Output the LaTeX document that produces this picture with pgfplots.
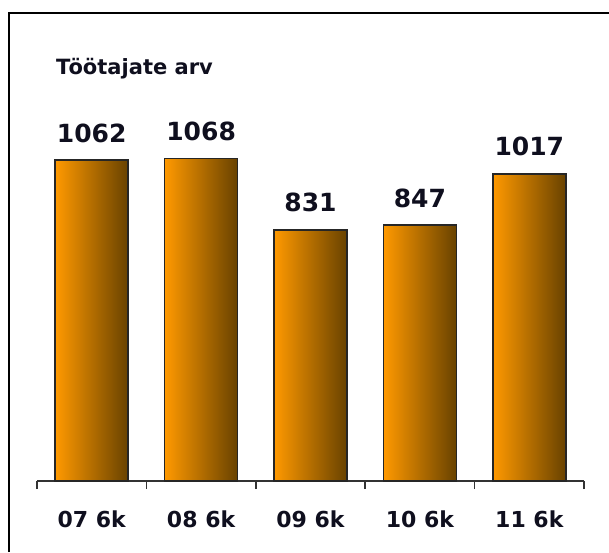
\documentclass[border=0pt]{standalone}
\usepackage{fontspec}
\setmainfont{DejaVu Sans}
\usepackage{pgfplots}
\pgfplotsset{compat=1.18}
\definecolor{barL}{RGB}{255,153,0}
\definecolor{barM}{RGB}{215,128,0}
\definecolor{barR}{RGB}{104,66,0}
\definecolor{txt}{RGB}{15,15,30}
\tikzset{mybar/.style={draw=black!85, line width=1.6pt, left color=barL, middle color=barM, right color=barR}}
\begin{document}
\begin{tikzpicture}[x=1pt,y=1pt]
\useasboundingbox (0,0) rectangle (609,552);
\draw[line width=2pt] (9,0) -- (9,539) -- (609,539);
\node[anchor=base west, font=\bfseries\fontsize{21}{21}\selectfont, inner sep=0pt, text=txt] at (56,477) {Töötajate arv};
\begin{axis}[
  at={(37pt,71pt)}, anchor=south west,
  scale only axis, width=547pt, height=400pt,
  xmin=-0.5, xmax=4.5, ymin=0, ymax=1324,
  axis y line=none, axis x line*=bottom,
  x axis line style={-, line width=1.5pt, color=black!80},
  xtick={0,...,4}, xticklabels={07 6k,08 6k,09 6k,10 6k,11 6k},
  major tick length=0pt,
  minor xtick={-0.5,0.5,1.5,2.5,3.5,4.5},
  minor tick length=8pt, tick align=outside,
  tick style={line width=1.5pt, color=black!80},
  xticklabel style={font=\bfseries\fontsize{22}{22}\selectfont, text=txt, anchor=base, yshift=-46pt},
  ybar, bar width=73pt, bar shift=0pt,
  nodes near coords,
  nodes near coords style={font=\bfseries\fontsize{25}{25}\selectfont, text=txt, anchor=base, yshift=18pt},
  /pgf/number format/assume math mode=true,
  /pgf/number format/1000 sep={},
]
\addplot[mybar] coordinates {(0,1062)};
\addplot[mybar] coordinates {(1,1068)};
\addplot[mybar] coordinates {(2,831)};
\addplot[mybar] coordinates {(3,847)};
\addplot[mybar] coordinates {(4,1017)};
\end{axis}
\end{tikzpicture}
\end{document}
